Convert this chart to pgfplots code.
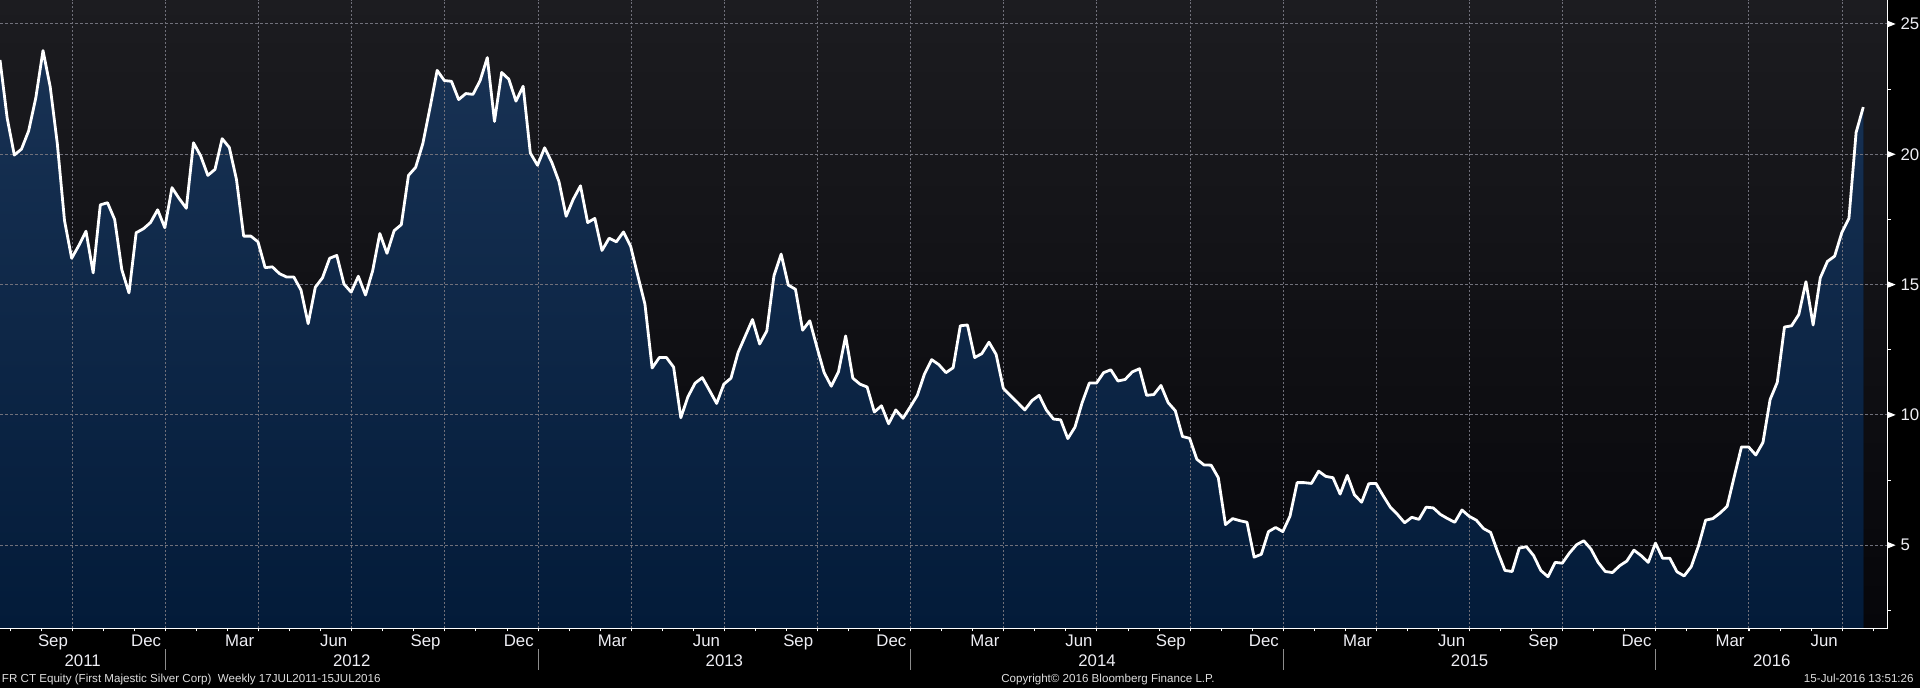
\documentclass[border=0pt]{standalone}
\usepackage{fontspec}
\setmainfont{Liberation Sans}
\usepackage{pgfplots}
\usepackage{pgfplotstable}
\pgfplotsset{compat=1.18}
\definecolor{bgtop}{RGB}{28,28,32}
\definecolor{bgbot}{RGB}{6,6,10}
\definecolor{areatop}{RGB}{24,50,84}
\definecolor{areabot}{RGB}{3,27,57}
\definecolor{gridc}{RGB}{112,112,122}
\definecolor{txt}{RGB}{238,238,244}
\definecolor{sepc}{RGB}{140,140,140}
\definecolor{foot}{RGB}{222,222,222}
\newcommand\tickfont{\fontsize{8.4}{10}\selectfont}
\pgfplotsset{
  bbgframe/.style={
    at={(0pt,29.85pt)}, anchor=south west,
    scale only axis, width=943.85pt, height=314.15pt,
    xmin=0, xmax=263.41, ymin=1.811, ymax=25.921,
  },
}
\pgfplotstableread{
w v
0 23.62
1 21.39
2 19.97
3 20.20
4 20.90
5 22.17
6 23.98
7 22.60
8 20.40
9 17.46
10 16.01
11 16.50
12 17.05
13 15.45
14 18.06
15 18.14
16 17.50
17 15.57
18 14.68
19 16.99
20 17.14
21 17.38
22 17.87
23 17.18
24 18.72
25 18.30
26 17.93
27 20.44
28 19.94
29 19.19
30 19.42
31 20.60
32 20.26
33 19.03
34 16.86
35 16.86
36 16.64
37 15.65
38 15.68
39 15.42
40 15.29
41 15.29
42 14.79
43 13.50
44 14.90
45 15.26
46 16.01
47 16.12
48 15.02
49 14.71
50 15.32
51 14.60
52 15.53
53 16.96
54 16.20
55 17.07
56 17.30
57 19.19
58 19.50
59 20.41
60 21.78
61 23.22
62 22.83
63 22.80
64 22.10
65 22.33
66 22.30
67 22.83
68 23.71
69 21.26
70 23.14
71 22.88
72 22.04
73 22.61
74 20.05
75 19.58
76 20.25
77 19.69
78 18.95
79 17.62
80 18.28
81 18.79
82 17.38
83 17.54
84 16.31
85 16.78
86 16.64
87 17.02
88 16.47
89 15.34
90 14.24
91 11.80
92 12.20
93 12.20
94 11.83
95 9.89
96 10.70
97 11.22
98 11.43
99 10.94
100 10.44
101 11.18
102 11.41
103 12.40
104 13.03
105 13.66
106 12.72
107 13.22
108 15.34
109 16.17
110 14.98
111 14.82
112 13.25
113 13.61
114 12.59
115 11.62
116 11.10
117 11.65
118 13.03
119 11.41
120 11.18
121 11.07
122 10.11
123 10.35
124 9.66
125 10.19
126 9.87
127 10.30
128 10.75
129 11.57
130 12.12
131 11.93
132 11.62
133 11.81
134 13.42
135 13.45
136 12.20
137 12.35
138 12.79
139 12.32
140 11.02
141 10.74
142 10.47
143 10.19
144 10.55
145 10.75
146 10.19
147 9.84
148 9.81
149 9.09
150 9.53
151 10.47
152 11.22
153 11.22
154 11.62
155 11.73
156 11.30
157 11.36
158 11.65
159 11.77
160 10.75
161 10.78
162 11.13
163 10.47
164 10.16
165 9.17
166 9.10
167 8.30
168 8.08
169 8.07
170 7.59
171 5.79
172 6.02
173 5.94
174 5.88
175 4.54
176 4.65
177 5.52
178 5.68
179 5.52
180 6.11
181 7.40
182 7.40
183 7.37
184 7.84
185 7.64
186 7.59
187 6.96
188 7.68
189 6.93
190 6.65
191 7.36
192 7.37
193 6.90
194 6.46
195 6.18
196 5.86
197 6.07
198 5.99
199 6.46
200 6.43
201 6.18
202 6.02
203 5.88
204 6.35
205 6.11
206 5.96
207 5.64
208 5.49
209 4.73
210 4.03
211 3.99
212 4.89
213 4.94
214 4.60
215 4.03
216 3.79
217 4.34
218 4.31
219 4.70
220 5.02
221 5.17
222 4.85
223 4.34
224 3.99
225 3.95
226 4.21
227 4.39
228 4.81
229 4.60
230 4.34
231 5.08
232 4.50
233 4.50
234 3.98
235 3.82
236 4.18
237 4.97
238 5.96
239 6.02
240 6.23
241 6.49
242 7.64
243 8.77
244 8.77
245 8.46
246 8.94
247 10.59
248 11.25
249 13.37
250 13.42
251 13.85
252 15.11
253 13.45
254 15.26
255 15.89
256 16.09
257 16.99
258 17.54
259 20.84
260 21.81
}\pricedata
\begin{document}
\begin{tikzpicture}
\fill[black] (0,0) rectangle (960pt,344pt);
\begin{axis}[
  bbgframe,
  axis on top,
  axis x line*=bottom, axis y line*=right,
  axis line style={white, line width=0.6pt, -},
  axis background/.style={top color=bgtop, bottom color=bgbot},
  xtick={10.09,23.09,36.08,49.08,62.08,75.08,88.08,101.08,114.08,127.07,140.07,153.07,166.07,179.06,192.06,205.06,218.06,231.06,244.05,257.05},
  xticklabels={Sep,Dec,Mar,Jun,Sep,Dec,Mar,Jun,Sep,Dec,Mar,Jun,Sep,Dec,Mar,Jun,Sep,Dec,Mar,Jun},
  minor xtick={1.4246,5.7573,...,262},
  ytick={5,10,15,20,25},
  yticklabels={5,10,15,20,25},
  minor ytick={2.5,7.5,...,22.5},
  xtick pos=left, ytick pos=right, yticklabel pos=right,
  tick align=outside,
  major tick length=1.6pt, minor tick length=1.6pt,
  tick style={white, line width=0.5pt},
  xmajorgrids, ymajorgrids,
  x grid style={gridc, line width=0.5pt, dash pattern=on 1pt off 1pt},
  y grid style={gridc, line width=0.5pt, dash pattern=on 1.5pt off 1pt},
  xticklabel style={anchor=base east, inner sep=0pt, xshift=-2pt, yshift=-7.7pt, font=\tickfont, text=txt},
  yticklabel style={anchor=west, inner sep=0pt, xshift=4.6pt, font=\tickfont, text=txt},
  /pgf/number format/assume math mode=true,
]
\addplot[draw=none, fill=areabot, top color=areatop, bottom color=areabot, shading=axis] table[x=w,y=v]{\pricedata} \closedcycle;
\end{axis}
\begin{axis}[bbgframe, hide axis]
\addplot[white, line width=1.4pt, line join=round, mark=none] table[x=w,y=v]{\pricedata};
\end{axis}
% y tick pointers
\foreach \yy in {71.40,136.55,201.70,266.85,332.00}{
  \fill[white] (943.85pt,\yy pt+1.6pt) -- (947.8pt,\yy pt) -- (943.85pt,\yy pt-1.6pt) -- cycle;
}
% year separators
\foreach \xx in {82.73,269.0,455.3,641.6,827.9}{
  \draw[sepc, line width=0.5pt] (\xx pt,9pt) -- (\xx pt,19.5pt);
}
% year labels
\foreach \xx/\yr in {41.35/2011,175.85/2012,362.2/2013,548.5/2014,734.8/2015,885.9/2016}{
  \node[anchor=base, inner sep=0pt, text=txt, font=\tickfont] at (\xx pt,10.65pt) {\yr};
}
% footer
\node[anchor=base west, inner sep=0pt, text=foot, font=\fontsize{5.8}{7}\selectfont] at (0.8pt,2.6pt) {FR CT Equity (First Majestic Silver Corp)\ \ Weekly 17JUL2011-15JUL2016};
\node[anchor=base, inner sep=0pt, text=foot, font=\fontsize{5.8}{7}\selectfont] at (554pt,2.6pt) {Copyright© 2016 Bloomberg Finance L.P.};
\node[anchor=base east, inner sep=0pt, text=foot, font=\fontsize{5.8}{7}\selectfont] at (957pt,2.6pt) {15-Jul-2016 13:51:26};
\pgfresetboundingbox
\useasboundingbox (0,0) rectangle (960pt,344pt);
\end{tikzpicture}
\end{document}
